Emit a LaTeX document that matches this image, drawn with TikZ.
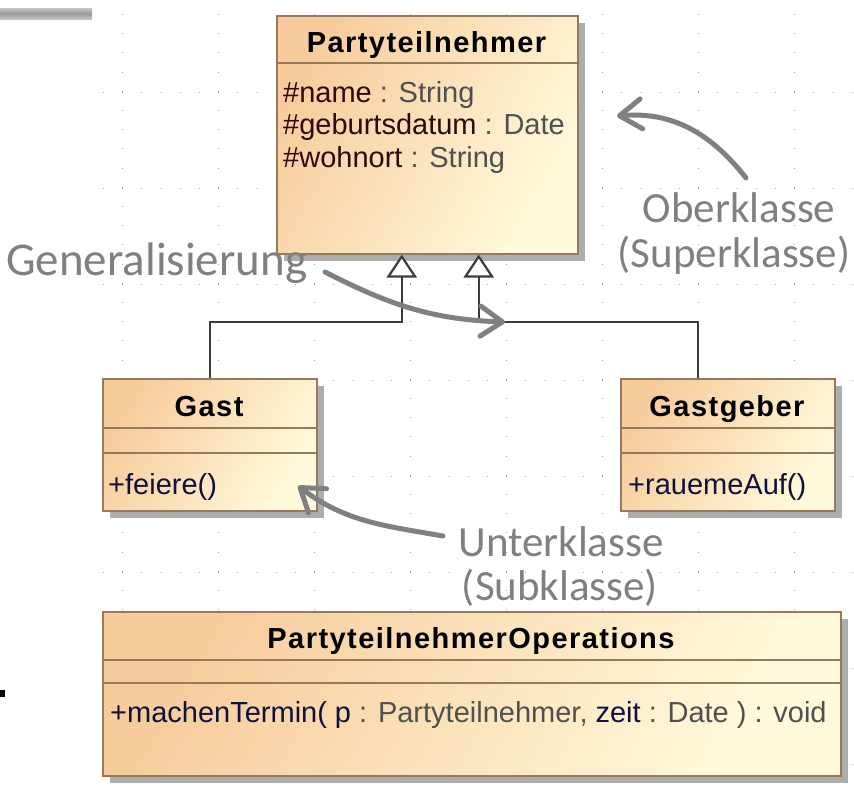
\documentclass[tikz,border=0pt]{standalone}
\usepackage{fontspec}
\setmainfont{Liberation Sans}
\newfontfamily\umltitlefont[LetterSpace=5]{Liberation Sans}
\newfontfamily\notefont{Carlito}
\usetikzlibrary{arrows.meta}
\usetikzlibrary{shadows}
\definecolor{umlorange}{RGB}{247,204,156}
\definecolor{umlyellow}{RGB}{255,250,220}
\definecolor{umlborder}{RGB}{150,122,94}
\definecolor{attrname}{RGB}{45,10,10}
\definecolor{typegray}{RGB}{80,80,80}
\definecolor{opnavy}{RGB}{16,16,60}
\definecolor{notegray}{RGB}{128,128,128}
\definecolor{linkgray}{RGB}{60,60,60}

\begin{document}
\begin{tikzpicture}[x=1pt,y=-1pt]

			\tikzstyle{griddot} = [black!35, line width=1pt, dash pattern=on 1pt off 18.2pt]
			\tikzstyle{umlclass} = [draw=umlborder, line width=1.5pt, top color=umlorange, bottom color=umlyellow, shading angle=60, drop shadow={shadow xshift=7pt, shadow yshift=-7pt, fill=black!32, opacity=1}, inner sep=0pt, anchor=north west]
			\tikzstyle{umlsep} = [draw=umlborder, line width=1.5pt]
			\tikzstyle{umltitle} = [inner sep=0pt, anchor=base, font=\umltitlefont\bfseries\fontsize{29}{32}\selectfont]
			\tikzstyle{umltext} = [inner sep=0pt, anchor=base west, font=\fontsize{29}{33}\selectfont]
			\tikzstyle{genline} = [linkgray, line width=2.2pt, -{Triangle[width=30pt,length=23pt,fill=white]}]
			\tikzstyle{note} = [notegray, inner sep=0pt, anchor=base, font=\notefont\fontsize{43}{48}\selectfont]
			\tikzstyle{notearrow} = [notegray, line width=5pt, line cap=round, -{Straight Barb[length=22pt,width=30pt,round]}]

			\useasboundingbox (0,0) rectangle (854,790);

			% slide remnants
			\shade[top color=gray!45, bottom color=gray!45, middle color=gray!80] (0,8) rectangle (92,19);
			\fill[black] (0,690) rectangle (5,697);

			% dotted grid
			\foreach \gx in {122,218,...,794}
				\draw[griddot] (\gx,14) -- (\gx,790);
			\foreach \gy in {92,188,...,764}
				\draw[griddot] (103,\gy) -- (854,\gy);

			% Partyteilnehmer
			\node[umlclass, minimum width=301pt, minimum height=238pt] (party) at (276,15) {};
			\draw[umlsep] ([yshift=-48pt]party.north west) -- ([yshift=-48pt]party.north east);
			\node[umltitle] (partyname) at (426.5,52) {Partyteilnehmer};
			\node[umltext] (partyname1) at (283,102) {{\color{attrname}\#name} {\color{typegray}: String}};
			\node[umltext] (partyborn) at (283,134.5) {{\color{attrname}\#geburtsdatum} {\color{typegray}: Date}};
			\node[umltext] (partyhome) at (283,167) {{\color{attrname}\#wohnort} {\color{typegray}: String}};

			% Gast
			\node[umlclass, minimum width=214pt, minimum height=132pt] (gast) at (102,378) {};
			\draw[umlsep] ([yshift=-50pt]gast.north west) -- ([yshift=-50pt]gast.north east);
			\draw[umlsep] ([yshift=-75pt]gast.north west) -- ([yshift=-75pt]gast.north east);
			\node[umltitle] (gastname) at (209,416) {Gast};
			\node[umltext] (gastop) at (108,494) {\color{opnavy}+feiere()};

			% Gastgeber
			\node[umlclass, minimum width=214pt, minimum height=132pt] (host) at (620,378) {};
			\draw[umlsep] ([yshift=-50pt]host.north west) -- ([yshift=-50pt]host.north east);
			\draw[umlsep] ([yshift=-75pt]host.north west) -- ([yshift=-75pt]host.north east);
			\node[umltitle] (hostname) at (727,416) {Gastgeber};
			\node[umltext] (hostop) at (628,494) {\color{opnavy}+rauemeAuf()};

			% PartyteilnehmerOperations
			\node[umlclass, minimum width=738pt, minimum height=164pt] (ops) at (102,611) {};
			\draw[umlsep] ([yshift=-49pt]ops.north west) -- ([yshift=-49pt]ops.north east);
			\draw[umlsep] ([yshift=-72pt]ops.north west) -- ([yshift=-72pt]ops.north east);
			\node[umltitle] (opsname) at (471,648) {PartyteilnehmerOperations};
			\node[umltext] (opsop) at (110,722) {{\color{opnavy}+machenTermin( p} {\color{typegray}: Partyteilnehmer,} {\color{opnavy}zeit} {\color{typegray}: Date ) : void}};

			% generalisation
			\draw[genline] (gast.north) -- ++(0,-56) -| ([xshift=-25.5pt]party.south);
			\draw[genline] ([xshift=-30pt]host.north) -- ++(0,-56) -| ([xshift=51.5pt]party.south);

			% notes
			\node[note, font=\notefont\fontsize{47}{50}\selectfont, anchor=base west] (genlabel) at (6,275) {Generalisierung};
			\node[note] (oberlabel) at (739,222) {Oberklasse};
			\node[note] (superlabel) at (734,267) {(Superklasse)};
			\node[note] (unterlabel) at (561,556) {Unterklasse};
			\node[note] (sublabel) at (560,600) {(Subklasse)};

			\coordinate (obertail) at (746,178);
			\coordinate (obertip) at (617,116);
			\coordinate (gentail) at (325,272);
			\coordinate (gentip) at (505,322);
			\coordinate (untertail) at (443,536);
			\coordinate (untertip) at (298,486);
			\draw[notearrow] (obertail) to[out=128, in=5] (obertip);
			\draw[notearrow] (gentail) to[out=-27, in=178] (gentip);
			\draw[notearrow] (untertail) to[out=170, in=-37] (untertip);
		\end{tikzpicture}
\end{document}
